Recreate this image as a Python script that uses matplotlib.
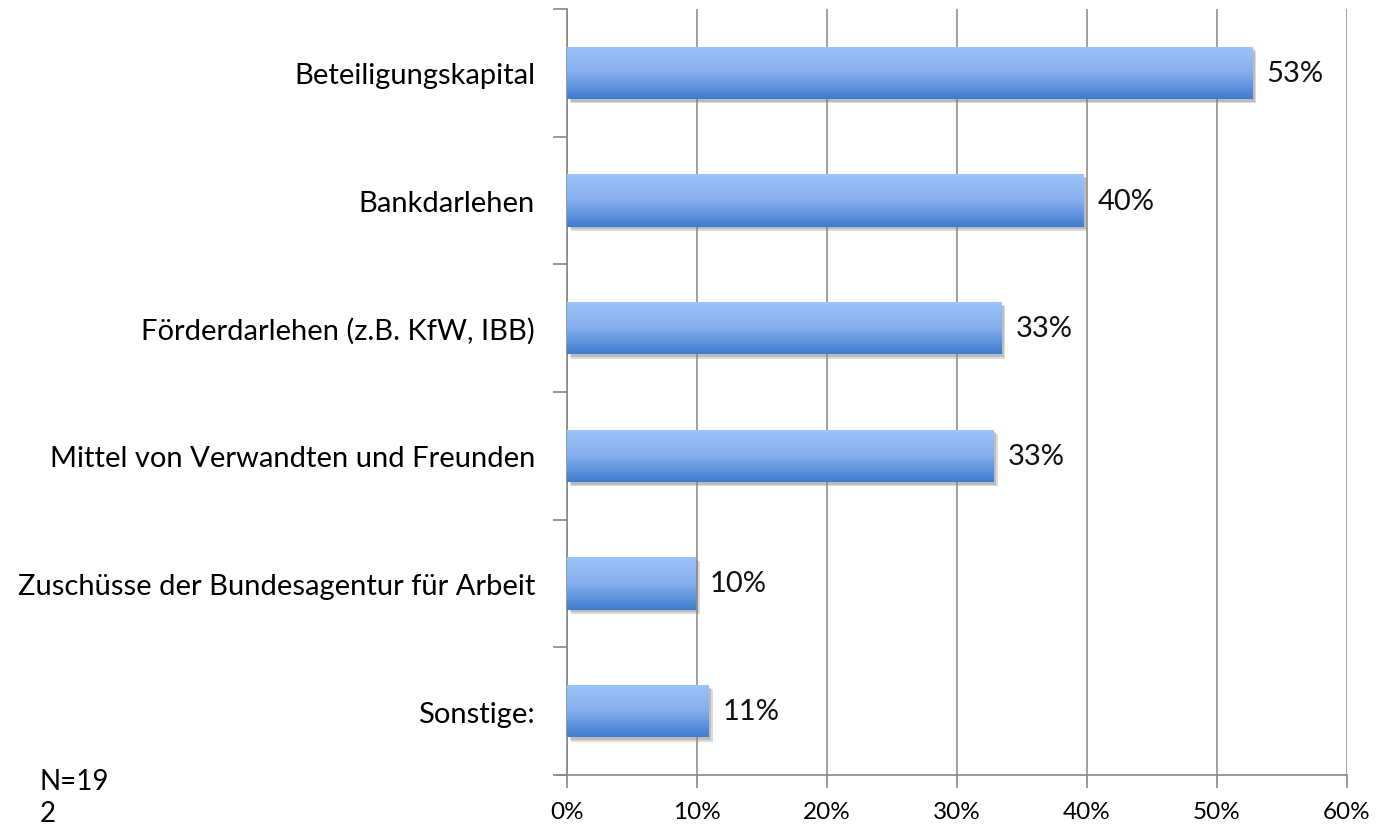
import matplotlib
matplotlib.use("Agg")
import matplotlib.pyplot as plt
import matplotlib.patheffects as pe
import numpy as np
from matplotlib.colors import LinearSegmentedColormap

categories = ["Beteiligungskapital", "Bankdarlehen", "Förderdarlehen (z.B. KfW, IBB)",
              "Mittel von Verwandten und Freunden", "Zuschüsse der Bundesagentur für Arbeit",
              "Sonstige:"]
values = [52.7, 39.7, 33.4, 32.8, 9.9, 10.9]
value_labels = ["53%", "40%", "33%", "33%", "10%", "11%"]
xticks = [0, 10, 20, 30, 40, 50, 60]
xtick_labels = ["0%", "10%", "20%", "30%", "40%", "50%", "60%"]

plt.rcParams['font.family'] = ['Lato', 'DejaVu Sans']

fig = plt.figure(figsize=(13.8, 8.28), dpi=100)
ax = fig.add_axes([567/1380, 52/828, 780/1380, 766/828])

ypos = np.arange(len(categories))
h = 0.41
cmap = LinearSegmentedColormap.from_list("g", ["#9DC3FB", "#86AEEC", "#3D7CCF"])
grad = np.linspace(0, 1, 100).reshape(-1, 1)

ax.set_xlim(0, 60)
ax.set_ylim(len(categories) - 0.5, -0.5)

bars = ax.barh(ypos, values, height=h, color="#6f9ee0", zorder=3,
               path_effects=[pe.SimplePatchShadow(offset=(3, -3), shadow_rgbFace="#888888", alpha=0.3),
                             pe.SimplePatchShadow(offset=(2, -2), shadow_rgbFace="#777777", alpha=0.3),
                             pe.Normal()])
for b, v, lab in zip(bars, values, value_labels):
    y0 = b.get_y()
    im = ax.imshow(grad, cmap=cmap, aspect="auto", extent=(0, v, y0 + h, y0), zorder=4,
                   interpolation="bicubic")
    im.set_clip_path(b)
    ax.text(v + 1.1, y0 + h / 2, lab, va="center", ha="left", fontsize=21, color="#111111", zorder=5)

ax.set_xticks(xticks)
ax.set_xticklabels(xtick_labels, fontsize=17.5)
ax.set_yticks(ypos)
ax.set_yticklabels(categories, fontsize=21)
ax.set_yticks(np.arange(len(categories) + 1) - 0.5, minor=True)
ax.tick_params(axis="y", which="major", length=0, pad=23)
ax.tick_params(axis="y", which="minor", length=10, color="#888888", width=1.2)
ax.tick_params(axis="x", length=9, color="#888888", width=1.2, pad=10)
ax.grid(axis="x", color="#888888", linewidth=1.1, zorder=0)
ax.set_axisbelow(True)
for s in ["top", "right"]:
    ax.spines[s].set_visible(False)
ax.spines["left"].set_color("#888888")
ax.spines["left"].set_linewidth(1.2)
ax.spines["bottom"].set_color("#888888")
ax.spines["bottom"].set_linewidth(1.2)
ax.spines["bottom"].set_bounds(-0.8, 60)

fig.text(40/1380, 1 - 782/828, "N=19", fontsize=20, va="center", ha="left")
fig.text(40/1380, 1 - 814/828, "2", fontsize=20, va="center", ha="left")

fig.savefig("out.png", dpi=100)
